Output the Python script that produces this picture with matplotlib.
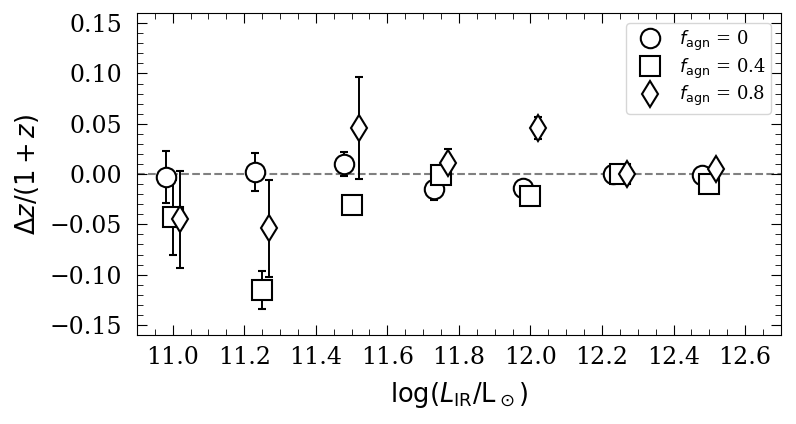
import matplotlib

matplotlib.use("Agg")
import matplotlib.pyplot as plt
from matplotlib.ticker import AutoMinorLocator, MultipleLocator


# luminosity bins and the three AGN fractions
LOG_LIR = [11.0, 11.25, 11.5, 11.75, 12.0, 12.25, 12.5]
X_SHIFT = [-0.02, 0.0, 0.02]

DZ_F00 = [-0.003, 0.002, 0.010, -0.015, -0.014, 0.000, -0.001]
ERR_F00 = [0.026, 0.019, 0.012, 0.011, 0.004, 0.003, 0.003]

DZ_F04 = [-0.043, -0.115, -0.031, -0.001, -0.022, 0.000, -0.010]
ERR_F04 = [0.037, 0.019, 0.004, 0.004, 0.004, 0.003, 0.003]

DZ_F08 = [-0.045, -0.054, 0.046, 0.011, 0.046, 0.000, 0.005]
ERR_F08 = [0.048, 0.048, 0.051, 0.014, 0.011, 0.003, 0.003]

LABELS = [r"$f_{\rm agn}$ = 0", r"$f_{\rm agn}$ = 0.4", r"$f_{\rm agn}$ = 0.8"]
MARKERS = ["o", "s", "d"]


def apply_style():
    plt.rcParams.update(
        {
            "font.family": "DejaVu Serif",
            "mathtext.fontset": "dejavusans",
            "font.size": 17,
            "axes.labelsize": 18.5,
            "xtick.direction": "in",
            "ytick.direction": "in",
            "xtick.top": True,
            "ytick.right": True,
            "xtick.major.size": 7,
            "ytick.major.size": 7,
            "xtick.minor.size": 4,
            "ytick.minor.size": 4,
            "xtick.major.pad": 8,
            "ytick.major.pad": 10.5,
        }
    )


def main():
    apply_style()
    fig = plt.figure(figsize=(7.96, 4.24), dpi=100)
    ax = fig.add_axes([0.172, 0.21, 0.809, 0.759])

    ax.axhline(0.0, color="gray", linestyle="--", linewidth=1.5, zorder=0)

    series = [(DZ_F00, ERR_F00), (DZ_F04, ERR_F04), (DZ_F08, ERR_F08)]
    for (dz, err), shift, marker, label in zip(series, X_SHIFT, MARKERS, LABELS):
        xs = [x + shift for x in LOG_LIR]
        ax.errorbar(
            xs,
            dz,
            yerr=err,
            fmt=marker,
            markersize=14 if marker != "d" else 13,
            markerfacecolor="white",
            markeredgecolor="black",
            markeredgewidth=1.5,
            ecolor="black",
            elinewidth=1.4,
            capsize=3,
            capthick=1.4,
            label=label,
        )

    ax.set_xlim(10.9, 12.7)
    ax.set_ylim(-0.16, 0.16)
    ax.xaxis.set_major_locator(MultipleLocator(0.2))
    ax.xaxis.set_minor_locator(AutoMinorLocator(4))
    ax.yaxis.set_major_locator(MultipleLocator(0.05))
    ax.yaxis.set_minor_locator(AutoMinorLocator(5))
    ax.tick_params(which="both", top=True, right=True)

    ax.set_xlabel(r"$\log(L_{\rm IR}/{\rm L}_\odot)$", labelpad=8)
    ax.set_ylabel(r"$\Delta z/(1+z)$", labelpad=6)

    handles, labels = ax.get_legend_handles_labels()
    handles = [h[0] for h in handles]
    ax.legend(handles, labels, loc="upper right", numpoints=1, fontsize=13,
              handletextpad=0.6, borderaxespad=0.55, borderpad=0.3,
              labelspacing=0.2)

    fig.savefig("out.png", dpi=100)
    plt.close(fig)


if __name__ == "__main__":
    main()
